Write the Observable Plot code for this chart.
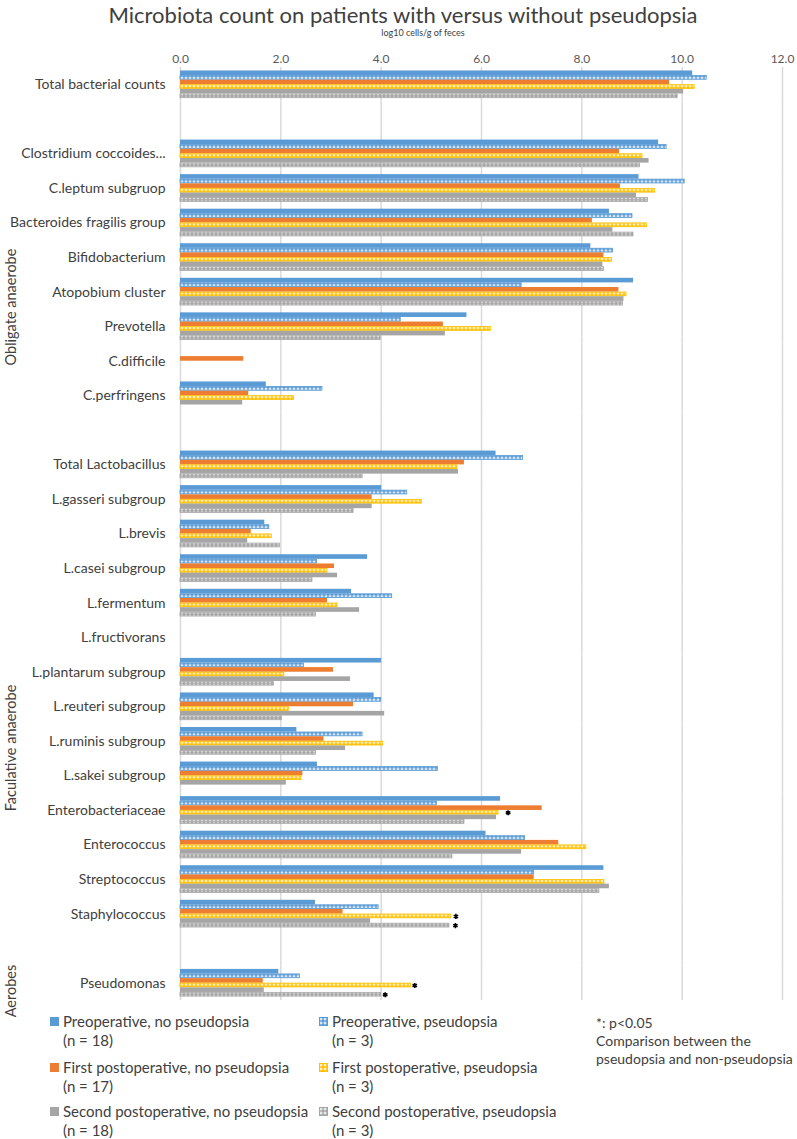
<!DOCTYPE html>
<html>
<head>
<meta charset="utf-8">
<script src="https://cdn.jsdelivr.net/npm/d3@7"></script>
<script src="https://cdn.jsdelivr.net/npm/@observablehq/plot@0.6"></script>
<style>
  body { margin: 0; background: #fff; font-family: Lato, "Open Sans", sans-serif; color: #404040; }
  #wrap { position: relative; width: 797px; height: 1139px; overflow: hidden; }
  #chart { position: absolute; left: 0; top: 0; }
  .abs { position: absolute; white-space: nowrap; }
  .title { top: 1px; left: 0; width: 806px; text-align: center; font-size: 22px; color: #404040; }
  .xlab { top: 27px; left: 323px; width: 200px; text-align: center; font-size: 9px; color: #404040; }
  .grp { font-size: 14.5px; color: #404040; transform: translate(-50%, -50%) rotate(-90deg); }
  .leg { font-size: 15px; line-height: 19px; color: #404040; }
  .leg svg { position: absolute; left: 0; top: 5px; }
  .leg .t { position: absolute; left: 13px; top: 0; }
  .note { font-size: 14px; line-height: 18px; color: #404040; }
</style>
</head>
<body>
<svg width="0" height="0" style="position:absolute">
  <defs>
    <pattern id="pBlue" width="4" height="4" patternUnits="userSpaceOnUse">
      <rect width="4" height="4" fill="#5B9BD5"/>
      <rect x="0.5" y="1.5" width="3" height="1" fill="#fff"/>
      <rect x="1.5" y="0.5" width="1" height="3" fill="#fff"/>
    </pattern>
    <pattern id="pYellow" width="4" height="4" patternUnits="userSpaceOnUse">
      <rect width="4" height="4" fill="#FFC000"/>
      <rect x="0.5" y="1.5" width="3" height="1" fill="#fff"/>
      <rect x="1.5" y="0.5" width="1" height="3" fill="#fff"/>
    </pattern>
    <pattern id="pGray" width="4" height="4" patternUnits="userSpaceOnUse">
      <rect width="4" height="4" fill="#A5A5A5"/>
      <rect x="0.5" y="1.5" width="3" height="1" fill="#fff"/>
      <rect x="1.5" y="0.5" width="1" height="3" fill="#fff"/>
    </pattern>
  </defs>
</svg>
<div id="wrap">
  <div class="abs title">Microbiota count on patients with versus without pseudopsia</div>
  <div class="abs xlab">log10 cells/g of feces</div>
</div>
<script>
// ---------------- data ----------------
const categories = [
  "Total bacterial counts", " ",
  "Clostridium coccoides...", "C.leptum subgruop", "Bacteroides fragilis group", "Bifidobacterium",
  "Atopobium cluster", "Prevotella", "C.difficile", "C.perfringens", "  ",
  "Total Lactobacillus", "L.gasseri subgroup", "L.brevis", "L.casei subgroup", "L.fermentum",
  "L.fructivorans", "L.plantarum subgroup", "L.reuteri subgroup", "L.ruminis subgroup",
  "L.sakei subgroup", "Enterobacteriaceae", "Enterococcus", "Streptococcus", "Staphylococcus", "   ",
  "Pseudomonas"
];
const realCategories = categories.filter(c => c.trim() !== "");

const seriesNames = [
  "Preoperative, no pseudopsia",
  "Preoperative, pseudopsia",
  "First postoperative, no pseudopsia",
  "First postoperative, pseudopsia",
  "Second postoperative, no pseudopsia",
  "Second postoperative, pseudopsia"
];
const seriesN = ["(n = 18)", "(n = 3)", "(n = 17)", "(n = 3)", "(n = 18)", "(n = 3)"];

// values per real category (log10 cells/g of feces)
const preNo   = [10.21, 9.53, 9.14, 8.55, 8.18, 9.03, 5.71, null, 1.71, 6.29, 4.01, 1.68, 3.73, 3.41, null, 4.01, 3.86, 2.32, 2.73, 6.38, 6.09, 8.44, 2.69, 1.96];
const prePs   = [10.49, 9.69, 10.05, 9.01, 8.62, 6.80, 4.39, null, 2.83, 6.83, 4.52, 1.77, 2.72, 4.22, null, 2.46, 4.00, 3.63, 5.13, 5.11, 6.87, 7.05, 3.95, 2.38];
const post1No = [9.75, 8.75, 8.77, 8.21, 8.44, 8.74, 5.24, 1.26, 1.36, 5.66, 3.82, 1.41, 3.07, 2.93, null, 3.05, 3.45, 2.86, 2.44, 7.21, 7.54, 7.05, 3.24, 1.65];
const post1Ps = [10.25, 9.21, 9.46, 9.30, 8.60, 8.89, 6.19, null, 2.26, 5.52, 4.81, 1.82, 2.93, 3.13, null, 2.07, 2.16, 4.04, 2.41, 6.34, 8.09, 8.45, 5.40, 4.60];
const post2No = [10.03, 9.34, 9.09, 8.62, 8.42, 8.84, 5.28, null, 1.24, 5.54, 3.82, 1.34, 3.13, 3.57, null, 3.39, 4.07, 3.29, 2.11, 6.30, 6.80, 8.55, 3.79, 1.67];
const post2Ps = [9.91, 9.16, 9.32, 9.03, 8.44, 8.82, 3.99, null, null, 3.63, 3.45, 1.98, 2.63, 2.70, null, 1.86, 2.02, 2.70, null, 5.66, 5.42, 8.35, 5.36, 4.00];
const seriesValues = [preNo, prePs, post1No, post1Ps, post2No, post2Ps];

// significance markers (*: p<0.05), x position
const sigCategories = ["Enterobacteriaceae", "Staphylococcus", "Staphylococcus", "Pseudomonas", "Pseudomonas"];
const sigSeries = [3, 3, 5, 3, 5];
const sigX = [6.53, 5.49, 5.48, 4.67, 4.08];

const xTicks = [0, 2, 4, 6, 8, 10, 12];

const groupLabels = ["Obligate anaerobe", "Faculative anaerobe", "Aerobes"];
const noteLines = ["*: p<0.05", "Comparison between  the", "pseudopsia and non-pseudopsia"];

// ---------------- styles ----------------
const fills   = ["#5B9BD5", "url(#pBlue)", "#ED7D31", "url(#pYellow)", "#A5A5A5", "url(#pGray)"];
const strokes = ["#5B9BD5", "#5B9BD5", "#ED7D31", "#FFC000", "#A5A5A5", "#A5A5A5"];
const hatched = [false, true, false, true, false, true];

// ---------------- table ----------------
const rows = [];
categories.forEach(cat => {
  const i = realCategories.indexOf(cat);
  seriesNames.forEach((s, j) => {
    rows.push({cat, series: s, value: i >= 0 ? seriesValues[j][i] : null});
  });
});
const sigs = sigCategories.map((c, k) => ({cat: c, series: seriesNames[sigSeries[k]], x: sigX[k]}));

const chart = Plot.plot({
  width: 797,
  height: 1002,
  marginLeft: 180,
  marginRight: 15,
  marginTop: 67,
  marginBottom: 2,
  style: {fontFamily: "Lato, 'Open Sans', sans-serif", color: "#404040", background: "transparent"},
  x: {domain: [0, 12]},
  fy: {domain: categories, padding: 0, round: false},
  y: {domain: seriesNames, paddingInner: 0, paddingOuter: 0.75, round: false, axis: null},
  marks: [
    Plot.gridX(xTicks, {stroke: "#d9d9d9", strokeOpacity: 1, strokeWidth: 1.5}),
    ...seriesNames.map((s, j) => Plot.barX(rows.filter(d => d.series === s), {
      x: "value", y: "series", fy: "cat",
      fill: fills[j],
      stroke: hatched[j] ? strokes[j] : "none",
      strokeWidth: 0.8,
      insetTop: hatched[j] ? 0.4 : 0, insetBottom: hatched[j] ? 0.4 : 0
    })),
    Plot.dot(sigs, {x: "x", y: "series", fy: "cat", symbol: "asterisk", r: 2.4, stroke: "#000", strokeWidth: 1.6}),
    Plot.axisX(xTicks, {anchor: "top", facetAnchor: "top", tickSize: 0, tickPadding: 5, tickFormat: d => d.toFixed(1), fontSize: 12, fill: "#595959", label: null}),
    Plot.axisFy({anchor: "left", tickSize: 0, tickPadding: 15, fontSize: 14, fill: "#404040", label: null})
  ]
});
chart.id = "chart";
const wrap = document.getElementById("wrap");
wrap.appendChild(chart);

// group labels (rotated)
const groupCenters = [307, 748, 991];
groupLabels.forEach((g, i) => {
  const d = document.createElement("div");
  d.className = "abs grp";
  d.style.left = "10px";
  d.style.top = groupCenters[i] + "px";
  d.textContent = g;
  wrap.appendChild(d);
});

// legend
const legCols = [50, 319];
const legRows = [1012, 1058, 1102];
seriesNames.forEach((s, j) => {
  const d = document.createElement("div");
  d.className = "abs leg";
  d.style.left = legCols[j % 2] + "px";
  d.style.top = legRows[Math.floor(j / 2)] + "px";
  const sw = hatched[j]
    ? `<svg width="9" height="9"><rect x="0.5" y="0.5" width="8" height="8" fill="${fills[j]}" stroke="${strokes[j]}" stroke-width="1"/></svg>`
    : `<svg width="9" height="9"><rect width="9" height="9" fill="${fills[j]}"/></svg>`;
  d.innerHTML = sw + `<div class="t">${s}<br>${seriesN[j]}</div>`;
  wrap.appendChild(d);
});

// note
const note = document.createElement("div");
note.className = "abs note";
note.style.left = "596px";
note.style.top = "1014px";
note.innerHTML = noteLines.join("<br>");
wrap.appendChild(note);
</script>
</body>
</html>
